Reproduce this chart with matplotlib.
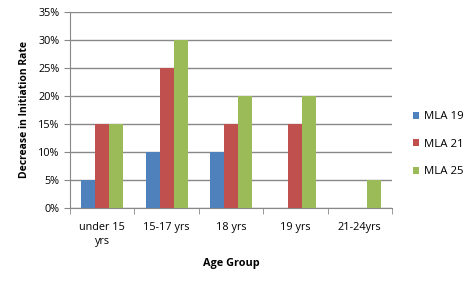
import matplotlib
matplotlib.use("Agg")
import matplotlib.pyplot as plt
import numpy as np
from matplotlib.ticker import FuncFormatter, FixedLocator

categories = ["under 15\nyrs", "15-17 yrs", "18 yrs", "19 yrs", "21-24yrs"]
series_names = ["MLA 19", "MLA 21", "MLA 25"]
mla19 = [5, 10, 10, 0, 0]
mla21 = [15, 25, 15, 15, 0]
mla25 = [15, 30, 20, 20, 5]
colors = ["#4F81BD", "#C0504D", "#9BBB59"]

plt.rcParams['font.family'] = ['Open Sans', 'DejaVu Sans']

fig = plt.figure(figsize=(4.77, 2.84), dpi=100)
ax = fig.add_axes([70/477, 1 - 208/284, (392-70)/477, (208-12)/284])

x = np.arange(len(categories))
w = 0.217
for i, (vals, name, c) in enumerate(zip([mla19, mla21, mla25], series_names, colors)):
    ax.bar(x + (i - 1) * w, vals, width=w, color=c, label=name, zorder=3)

ax.set_xlim(-0.5, len(categories) - 0.5)
ax.set_ylim(0, 35)
ax.set_yticks(np.arange(0, 36, 5))
ax.yaxis.set_major_formatter(FuncFormatter(lambda v, p: f"{int(v)}%"))
ax.grid(axis='y', color='#888888', linewidth=1, zorder=0)
ax.set_xticks(x)
ax.set_xticklabels(categories, fontsize=7.8, linespacing=1.4)
ax.xaxis.set_minor_locator(FixedLocator(np.arange(-0.5, len(categories), 1)))
ax.tick_params(axis='x', which='major', length=0, pad=10)
ax.tick_params(axis='x', which='minor', length=4, color='#888888', direction='out')
ax.tick_params(axis='y', length=4, color='#888888', labelsize=7.8, direction='out')
for s in ['top', 'right']:
    ax.spines[s].set_visible(False)
for s in ['left', 'bottom']:
    ax.spines[s].set_color('#888888')
ax.set_ylabel("Decrease in Initiation Rate", fontsize=7.5, fontweight='bold', labelpad=6)
ax.set_xlabel("Age Group", fontsize=7.8, fontweight='bold', labelpad=8)

ax.legend(loc='center left', bbox_to_anchor=(1.05, 0.325), frameon=False,
          fontsize=8.2, handlelength=0.6, handleheight=0.6, handletextpad=0.4,
          labelspacing=1.45, borderaxespad=0)

fig.savefig("out.png", dpi=100)
